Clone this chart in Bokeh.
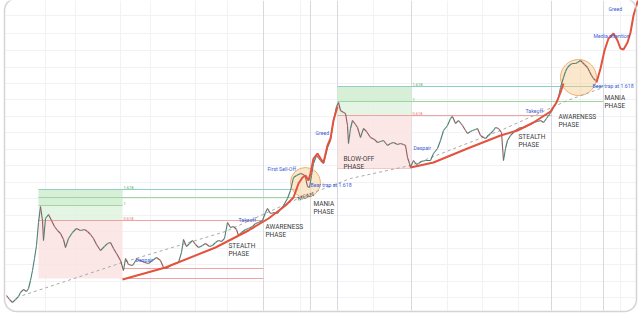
import numpy as np
from bokeh.plotting import figure
from bokeh.models import Range1d
from bokeh.core.properties import value
from bokeh.embed import file_html
from bokeh.resources import INLINE

# ---- data (screen-like units, y grows downward) ----
price_x = [6,9,12,15,18,20,23,26,28,30,32,34,36,38,40,42,43,45,48,51,54,57,60,63,65,68,72,76,80,84,87,90,93,96,100,104,107,110,113,116,120,123,
           125,128,132,136,140,144,148,152,156,160,163,166,170,174,178,181,183,186,189,192,195,198,202,205,209,212,215,218,221,224,227,230,233,236,238,241,245,248,252,255,258,262,
           265,267,270,274,277,280,283,287,290,293,296,300,303,305,307,309,311,313,316,320,323,327,330,333,336,338,
           340,343,345,347,348,350,352,355,357,360,363,366,370,374,377,380,383,387,390,393,397,400,403,405,407,409,410,
           413,416,418,421,425,430,433,437,440,443,447,450,452,455,458,462,465,467,470,472,475,477,480,483,485,488,490,493,495,498,501,503,505,507,510,513,515,518,520,524,527,530,533,537,540,543,546,548,551,553,556,558,
           560,563,565,567,570,572,575,577,580,582,584,587,589,591,593,595]
price_y = [295,299,302,299,296,292,289,291,288,280,270,258,245,222,206,220,240,218,214,220,226,230,233,239,247,238,232,228,230,229,231,234,238,244,250,246,243,242,248,253,260,270,
           258,264,265,259,260,262,263,260,257,260,267,268,265,263,262,252,239,246,243,240,244,247,245,243,246,245,242,240,241,238,222,227,226,229,235,232,229,228,226,223,222,220,
           212,208,213,212,213,209,205,198,190,177,175,173,174,177,186,187,175,163,155,160,163,147,140,120,106,102,
           110,112,113,125,143,128,120,124,127,137,128,131,137,139,142,141,140,145,143,142,144,143,144,145,157,163,167,
           160,164,163,161,160,160,153,148,140,130,125,118,116,123,120,125,130,133,131,130,129,128,135,137,138,135,133,130,127,128,132,160,148,140,135,132,130,128,127,127,125,124,122,121,120,122,118,115,111,107,102,97,
           87,77,71,67,64,63,63,62,60,62,64,67,71,75,78,80]

curve1_x = [122,165,215,248,268,285,293,298,302,305,308,310,313,317,320,323,327,330,333,337]
curve1_y = [279,267,247,230,218,205,197,183,177,175,180,173,158,153,158,162,145,138,120,106]
curve2_x = [410,433,467,500,517,533,550,556,560,563]
curve2_y = [167,162,148,135,130,122,111,102,92,83]
proj_x = [596,600,604,608,613,617,620,623,627,630,633,638]
proj_y = [82,68,50,38,33,40,48,49,42,32,15,-2]

trend_x = [22,122,225,300,350,410,500,567,600]
trend_y = [295,262,231,197,178,165,130,100,88]

# Fibonacci boxes (cycle 1, cycle 2)
fib_left = [38, 337]
fib_right = [122, 411]
fib_1618 = [189, 86]
fib_1 = [205, 101]
fib_0618 = [220, 115]
fib_bottom = [278, 168]
fib_mid1 = 197
despair1_lines = [268, 278]

circle_x = [305, 578]
circle_y = [182, 77]
circle_r = [15, 18]

blue_labels = ["Despair", "Takeoff", "First Sell-Off", "Bear trap at 1.618", "Greed",
               "Despair", "Takeoff", "Bear trap at 1.618", "Media attention", "Greed"]
blue_x = [135, 238, 267, 310, 315, 413, 525, 592, 593, 608]
blue_y = [259, 219, 168, 184, 132, 147, 110, 85, 35, 8]

phase_labels = ["STEALTH\nPHASE", "AWARENESS\nPHASE", "MANIA\nPHASE", "BLOW-OFF\nPHASE",
                "STEALTH\nPHASE", "AWARENESS\nPHASE", "MANIA\nPHASE"]
phase_x = [228, 265, 313, 343, 518, 558, 604]
phase_y = [241, 222, 199, 154, 132, 112, 93]

separators_x = [263, 310, 337, 411, 551, 603]
grid_x = [45, 75, 120, 150, 195, 227, 300, 373, 447, 482, 518, 580, 620]
grid_y = [15, 33, 50, 67, 83, 99, 116, 132, 149, 165, 182, 198, 215, 231, 248, 264, 281, 297]

W, H = 638, 318
p = figure(width=W, height=H, output_backend="svg", toolbar_location=None,
           x_range=Range1d(0, W), y_range=Range1d(H, 0), min_border=0)
p.axis.visible = False
p.grid.visible = False
p.outline_line_color = None
p.background_fill_color = "white"
p.border_fill_color = "white"

# faint grid
p.segment(x0=grid_x, y0=[0]*len(grid_x), x1=grid_x, y1=[310]*len(grid_x), line_color="#f1f2f4", line_width=1)
p.segment(x0=[5]*len(grid_y), y0=grid_y, x1=[635]*len(grid_y), y1=grid_y, line_color="#f1f2f4", line_width=1)
p.segment(x0=separators_x, y0=[0]*len(separators_x), x1=separators_x, y1=[310]*len(separators_x),
          line_color="#d6dae0", line_width=1)

# fib boxes
for i in range(2):
    p.quad(left=fib_left[i], right=fib_right[i], top=fib_1618[i], bottom=fib_0618[i],
           fill_color="#dff2df", fill_alpha=0.8, line_color=None)
    p.quad(left=fib_left[i], right=fib_right[i], top=fib_1618[i], bottom=fib_1[i],
           fill_color="#cdebcd", fill_alpha=0.6, line_color=None)
    p.quad(left=fib_left[i], right=fib_right[i], top=fib_0618[i], bottom=fib_bottom[i],
           fill_color="#fbe3e3", fill_alpha=0.85, line_color=None)

# fib lines cycle 1
p.segment(x0=[38, 38, 38, 38], y0=[fib_1618[0], fib_mid1, fib_1[0], fib_0618[0]],
          x1=[298, 300, 122, 263], y1=[fib_1618[0], fib_mid1, fib_1[0], fib_0618[0]],
          line_color=["#8fcfc4", "#9fd69f", "#9fd69f", "#f0a3a3"], line_width=1)
p.segment(x0=[122, 122], y0=despair1_lines, x1=[263, 263], y1=despair1_lines,
          line_color="#f0a3a3", line_width=1)
# fib lines cycle 2
p.segment(x0=[337, 337, 337, 337], y0=[fib_1618[1], fib_1[1], fib_0618[1], fib_bottom[1]],
          x1=[603, 603, 551, 411], y1=[fib_1618[1], fib_1[1], fib_0618[1], fib_bottom[1]],
          line_color=["#8fcfc4", "#9fd69f", "#f0a3a3", "#f5c6c6"], line_width=1)

# fib level labels
for i in range(2):
    p.text(x=[fib_right[i] + 1]*3, y=[fib_1618[i] - 1, fib_1[i] - 1, fib_0618[i] - 1],
           text=["1.618", "1", "0.618"], text_font=value("Roboto"), text_font_size="4px",
           text_color=["#4caf50", "#4caf50", "#e57373"], text_baseline="bottom")

# circles
p.circle(x=circle_x, y=circle_y, radius=circle_r, fill_color="#f7c98c", fill_alpha=0.45,
         line_color="#f0b070", line_width=1)

# trend dashed
p.line(trend_x, trend_y, line_color="#a8a8a8", line_width=1, line_dash="3 3")

# price segments coloured by direction
xs, ys, cols = [], [], []
for i in range(len(price_x) - 1):
    xs.append([price_x[i], price_x[i + 1]])
    ys.append([price_y[i], price_y[i + 1]])
    cols.append("#4d7f74" if price_y[i + 1] <= price_y[i] else "#8c5c5c")
p.multi_line(xs=xs, ys=ys, line_color=cols, line_width=1.1)

# red parabolic curves
for cx, cy in [(curve1_x, curve1_y), (curve2_x, curve2_y), (proj_x, proj_y)]:
    p.line(cx, cy, line_color="#e4523d", line_width=2)

# "MEAN" label
p.text(x=[297], y=[198], text=["MEAN"], angle=0.3, text_font=value("Roboto"),
       text_font_size="6px", text_color="#555555", text_baseline="middle")

# labels
p.text(x=blue_x, y=blue_y, text=blue_labels, text_font=value("Roboto"), text_font_size="5.2px",
       text_color="#3d5bd6", text_baseline="middle")
p.text(x=phase_x, y=phase_y, text=phase_labels, text_font=value("Roboto"), text_font_size="6.5px",
       text_color="#3c3c3c", text_baseline="top", text_line_height=1.1)

# rounded frame
r = 12
L, R, T, B = 4, 636, -2, 311
pts = []
for (cx, cy, a0) in [(R - r, T + r, -90), (R - r, B - r, 0), (L + r, B - r, 90), (L + r, T + r, 180)]:
    ang = np.radians(np.linspace(a0, a0 + 90, 10))
    pts += list(zip(cx + r*np.cos(ang), cy + r*np.sin(ang)))
pts.append(pts[0])
p.line([q[0] for q in pts], [q[1] for q in pts], line_color="#d4d4d4", line_width=1.5)

open("out.html", "w").write(file_html(p, INLINE))
